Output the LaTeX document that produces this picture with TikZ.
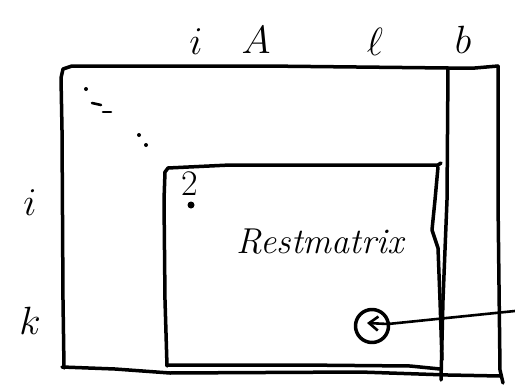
\documentclass[tikz,border=0pt]{standalone}
\usepackage{graphicx}
\usetikzlibrary{arrows.meta}
\newcommand{\biglbl}[1]{\scalebox{1.9}{\fontsize{20}{20}\selectfont$#1$}}
\begin{document}
\begin{tikzpicture}[x=1pt,y=-1pt,
  pen/.style={line width=3.5pt,line cap=round,line join=round},
  thinpen/.style={line width=2.6pt,line cap=round,line join=round},
  lbl/.style={inner sep=0pt},
  dotmark/.style={circle,fill,inner sep=0pt,minimum size=4pt}]
\useasboundingbox (0,0) rectangle (515,391);

% outer matrix A with column b
\draw[pen] (64,368) -- (63,300) -- (62,130) -- (61,78) -- (63,69) -- (72,66)
  -- (88,66) -- (265,66) -- (448,68) -- (475,68) -- (498,66);
\draw[pen] (498,66) -- (498,200) -- (500,370) -- (503,383);
\draw[pen] (62,367) -- (115,369) -- (170,373) -- (360,372) -- (448,375) -- (500,376);
\draw[pen] (448,68) -- (447,200) -- (443,300) -- (441,380);

% diagonal elimination marks
\node[dotmark] (d1) at (86,89) {};
\draw[thinpen] (92,103) -- (101,105);
\draw[thinpen] (103,112) -- (111,112);
\node[dotmark] (d2) at (139,135) {};
\node[dotmark] (d3) at (146,145) {};

% remaining submatrix
\draw[pen] (167,366) -- (165,300) -- (164,200) -- (165,172) -- (168,168)
  -- (230,165) -- (438,165) -- (441,163);
\draw[pen] (438,167) -- (435,200) -- (432,230) -- (438,248) -- (440,300) -- (442,360);
\draw[pen] (167,365) -- (300,365) -- (410,366) -- (440,369);

% labels
\node[lbl] (ci) at (196,42) {\biglbl{i}};
\node[lbl] (cA) at (256,40) {\biglbl{A}};
\node[lbl] (cl) at (375,42) {\biglbl{\ell}};
\node[lbl] (cb) at (463,40) {\biglbl{b}};
\node[lbl] (ri) at (30,203) {\biglbl{i}};
\node[lbl] (rk) at (30,321) {\biglbl{k}};
\node[lbl] (two) at (190,184) {\scalebox{1.8}{\fontsize{20}{20}\selectfont 2}};
\node[dotmark,minimum size=7pt] (piv) at (191,205) {};
\node[lbl] (rest) at (320,242) {\scalebox{1.5}{\fontsize{24}{24}\itshape\selectfont Restmatrix}};

% marked entry with pointer
\node[draw,circle,pen,minimum size=33pt,inner sep=0pt] (tgt) at (372,326) {};
\coordinate (src) at (515,311);
\draw[thinpen,-{Straight Barb[length=9pt,width=14pt,line width=2.6pt]}] (src) -- (388,324) -- ([xshift=-5pt,yshift=3pt]tgt.center);
\end{tikzpicture}
\end{document}
